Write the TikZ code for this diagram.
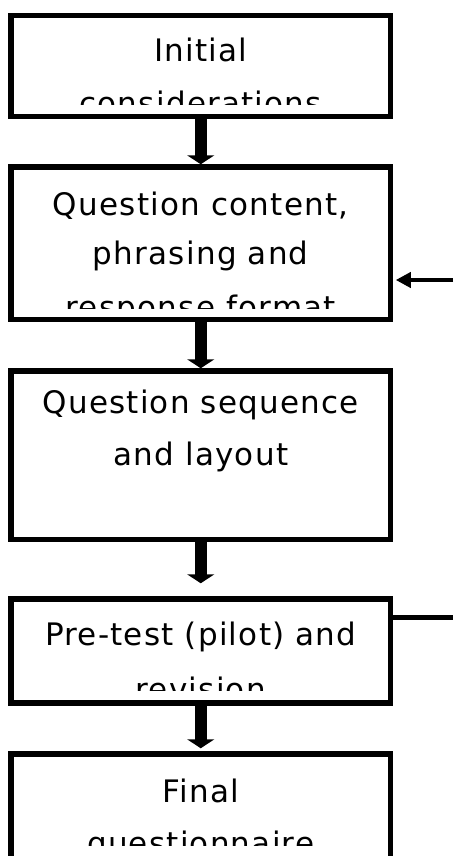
\documentclass[tikz,border=0pt]{standalone}
\usepackage{fontspec}
\newfontfamily\hand[LetterSpace=4]{DejaVu Sans}
\usetikzlibrary{arrows.meta}
\begin{document}
\begin{tikzpicture}[x=1pt,y=-1pt,
  box/.style={draw=black, line width=5.5pt, rectangle, inner sep=0pt, minimum width=379.5pt},
  txt/.style={anchor=base, inner sep=0pt, font=\hand\fontsize{31}{50}\selectfont},
  downarrow/.style={draw=black, line width=12pt, -{Triangle[width=27pt,length=9pt]}},
  sidearrow/.style={draw=black, line width=4.5pt, -{Triangle[width=15pt,length=15pt]}},
  sideline/.style={draw=black, line width=5pt}]
\clip (0,0) rectangle (453,856);
\fill[white] (0,0) rectangle (453,856);

% texts, clipped like the reference
\begin{scope}
\clip (14,18) rectangle (387,105);
\node[txt] (t1a) at (200.75,62) {Initial};
\node[txt] (t1b) at (200.75,114) {considerations};
\end{scope}
\begin{scope}
\clip (14,170) rectangle (387,308);
\node[txt] (t2a) at (200.75,215) {Question content,};
\node[txt] (t2b) at (200.75,264) {phrasing and};
\node[txt] (t2c) at (200.75,318) {response format};
\end{scope}
\begin{scope}
\clip (14,374) rectangle (387,537);
\node[txt] (t3a) at (200.75,413) {Question sequence};
\node[txt] (t3b) at (200.75,465) {and layout};
\end{scope}
\begin{scope}
\clip (14,602) rectangle (387,690);
\node[txt] (t4a) at (200.75,645) {Pre-test (pilot) and};
\node[txt] (t4b) at (200.75,700) {revision};
\end{scope}
\begin{scope}
\clip (14,757) rectangle (387,845);
\node[txt] (t5a) at (200.75,802) {Final};
\node[txt] (t5b) at (200.75,854) {questionnaire};
\end{scope}

% boxes
\node[box, minimum height=100.8pt] (b1) at (200.75,65.9) {};
\node[box, minimum height=152.7pt] (b2) at (200.75,243.35) {};
\node[box, minimum height=168.7pt] (b3) at (200.75,455.35) {};
\node[box, minimum height=104pt] (b4) at (200.75,651) {};
\node[box, minimum height=146pt] (b5) at (200.75,827) {};

% connectors
\draw[downarrow] (b1.south) -- (b2.north);
\draw[downarrow] (b2.south) -- (b3.north);
\draw[downarrow, shorten >=13pt] (b3.south) -- (b4.north);
\draw[downarrow, shorten >=3pt] (b4.south) -- (b5.north);

\coordinate (fb1) at (453,280);
\coordinate (fb2) at (453,617);
\draw[sidearrow, shorten >=2.5pt] (fb1) -- (fb1 -| b2.east);
\draw[sideline] (fb2 -| b4.east) -- (fb2);
\end{tikzpicture}
\end{document}
